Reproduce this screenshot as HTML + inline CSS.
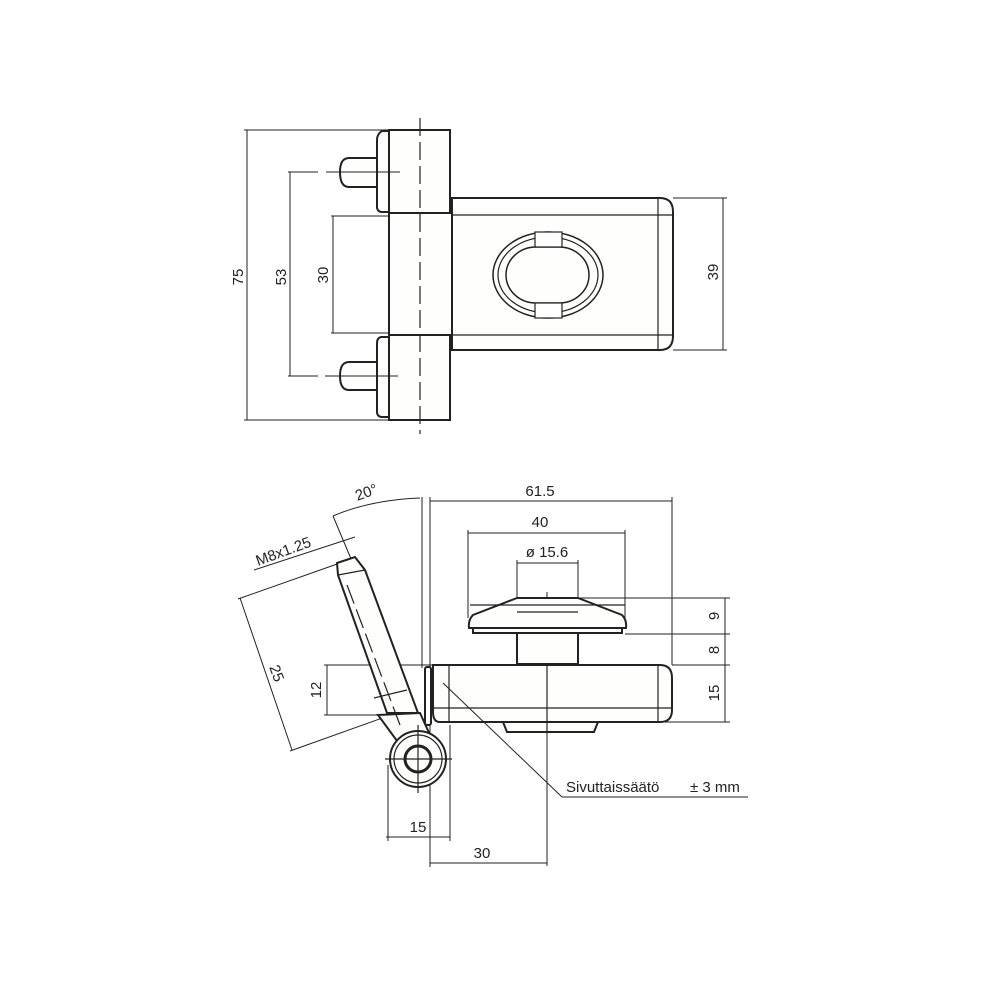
<!DOCTYPE html>
<html><head><meta charset="utf-8"><style>
html,body{margin:0;padding:0;background:#fff;}
svg{display:block}
text{font-family:"Liberation Sans",sans-serif;fill:#222;font-size:15px;}
</style></head><body>
<svg width="1000" height="1000" viewBox="0 0 1000 1000" xmlns="http://www.w3.org/2000/svg">
<rect width="1000" height="1000" fill="#fff"/>
<g stroke="#222" fill="none" stroke-width="1">
<line x1="247" y1="130" x2="247" y2="420"/>
<line x1="244" y1="130" x2="391" y2="130"/>
<line x1="244" y1="420" x2="391" y2="420"/>
<line x1="290" y1="172" x2="290" y2="376"/>
<line x1="333" y1="216" x2="333" y2="333"/>
<line x1="331" y1="216" x2="390" y2="216"/>
<line x1="331" y1="333" x2="390" y2="333"/>
<line x1="723" y1="198" x2="723" y2="350"/>
<line x1="673" y1="198" x2="727" y2="198"/>
<line x1="673" y1="350" x2="727" y2="350"/>
</g>
<g stroke="#222" fill="#fefefc" stroke-width="2">
<path d="M378 158 H349 Q340 158 340 172 Q340 187 349 187 H378"/>
<path d="M378 362 H349 Q340 362 340 376 Q340 390 349 390 H378"/>
<path d="M389 131 H382 Q377 134 377 140 V208 Q378 212 382 212 H389"/>
<path d="M389 337 H381 Q377 338 377 343 V413 Q378 417 382 417 H389"/>
<path d="M452 198 H660 Q673 198 673 212 V336 Q673 350 660 350 H452 Z"/>
<rect x="389" y="130" width="61" height="83"/>
<rect x="389" y="213" width="63" height="122"/>
<rect x="389" y="335" width="61" height="85"/>
</g>
<g stroke="#222" fill="none" stroke-width="1">
<line x1="288" y1="172" x2="318" y2="172"/><line x1="326" y1="172" x2="400" y2="172"/>
<line x1="288" y1="376" x2="318" y2="376"/><line x1="325" y1="376" x2="398" y2="376"/>
</g>
<g stroke="#222" fill="none" stroke-width="1.2">
<line x1="452" y1="215" x2="673" y2="215"/>
<line x1="452" y1="335" x2="673" y2="335"/>
<line x1="658" y1="198" x2="658" y2="350"/>
<line x1="420" y1="118" x2="420" y2="434" stroke-dasharray="18,6"/>
<ellipse cx="548" cy="275" rx="55" ry="43" stroke-width="1.5"/>
<ellipse cx="548" cy="275" rx="50" ry="38"/>
<rect x="506" y="247" width="83" height="56" rx="30" ry="28" stroke-width="1.5"/>
<rect x="535" y="232" width="27" height="15" fill="#fff"/>
<rect x="535" y="303" width="27" height="15" fill="#fff"/>
</g>
<text transform="translate(243,277) rotate(-90)" text-anchor="middle">75</text>
<text transform="translate(286,277) rotate(-90)" text-anchor="middle">53</text>
<text transform="translate(328,275) rotate(-90)" text-anchor="middle">30</text>
<text transform="translate(718,272) rotate(-90)" text-anchor="middle">39</text>

<g stroke="#222" fill="none" stroke-width="1">
<line x1="430" y1="501" x2="672" y2="501"/>
<line x1="430" y1="497" x2="430" y2="867"/>
<line x1="672" y1="497" x2="672" y2="665"/>
<line x1="422" y1="497" x2="422" y2="668"/>
<path d="M333 516 Q370 500 420 498"/>
<line x1="333" y1="516" x2="357" y2="573"/>
<line x1="468" y1="533" x2="625" y2="533"/>
<line x1="468" y1="530" x2="468" y2="618"/>
<line x1="625" y1="530" x2="625" y2="618"/>
<line x1="517" y1="563" x2="578" y2="563"/>
<line x1="517" y1="560" x2="517" y2="600"/>
<line x1="578" y1="560" x2="578" y2="600"/>
<line x1="547" y1="592" x2="547" y2="866"/>
<line x1="725" y1="598" x2="725" y2="722"/>
<line x1="578" y1="598" x2="730" y2="598"/>
<line x1="625" y1="634" x2="730" y2="634"/>
<line x1="672" y1="665" x2="730" y2="665"/>
<line x1="660" y1="722" x2="730" y2="722"/>
<line x1="327" y1="665" x2="327" y2="715"/>
<line x1="324" y1="665" x2="432" y2="665"/>
<line x1="324" y1="715" x2="395" y2="715"/>
<line x1="240" y1="598" x2="292" y2="750"/>
<line x1="238" y1="599" x2="340" y2="563"/>
<line x1="290" y1="751" x2="388" y2="716"/>
<line x1="254" y1="570" x2="355" y2="537"/>
<line x1="386" y1="837" x2="450" y2="837"/>
<line x1="388" y1="765" x2="388" y2="841"/>
<line x1="450" y1="725" x2="450" y2="841"/>
<line x1="430" y1="863" x2="547" y2="863"/>
<line x1="562" y1="797" x2="748" y2="797"/>
</g>
<g stroke="#222" fill="#fefefc" stroke-width="2">
<path d="M517 598 H578 L622 615 Q627 620 626 628 H469 Q468 620 473 615 Z"/>
<rect x="473" y="628" width="149" height="5"/>
<rect x="517" y="633" width="61" height="31"/>
<path d="M433 665 H660 Q672 665 672 678 V710 Q672 722 660 722 H440 Q433 722 433 712 Z"/>
<path d="M503 722 H598 L594 732 H507 Z"/>
<path d="M338 575 L337 563 L355 557 L365 570 L418 713 L387 713 Z"/>
<path d="M378 715 L420 713 L430 735 L400 745 Z"/>
<rect x="425" y="667" width="6" height="58" rx="2"/>
<circle cx="418" cy="759" r="28"/>
</g>
<g stroke="#222" fill="none" stroke-width="1.2">
<line x1="449" y1="665" x2="449" y2="722"/>
<line x1="658" y1="665" x2="658" y2="722"/>
<line x1="433" y1="708" x2="672" y2="708"/>
<line x1="470" y1="605" x2="625" y2="605"/>
<line x1="517" y1="612" x2="578" y2="612"/>
<line x1="547" y1="665" x2="547" y2="732"/>
<line x1="338" y1="575" x2="365" y2="570"/>
<line x1="374" y1="698" x2="407" y2="690"/>
<line x1="347" y1="585" x2="400" y2="725" stroke-dasharray="20,6"/>
<circle cx="418" cy="759" r="24"/>
<circle cx="418" cy="759" r="13" stroke-width="3"/>
<line x1="385" y1="759" x2="452" y2="759"/>
<line x1="418" y1="725" x2="418" y2="793"/>
<line x1="443" y1="683" x2="562" y2="797" stroke-width="1"/>
</g>
<text x="540" y="496" text-anchor="middle">61.5</text>
<text x="540" y="527" text-anchor="middle">40</text>
<text x="547" y="557" text-anchor="middle">ø  15.6</text>
<text transform="translate(368,497) rotate(-20)" text-anchor="middle" font-size="14">20°</text>
<text transform="translate(285,556) rotate(-20)" text-anchor="middle" font-size="14">M8x1.25</text>
<text transform="translate(272,675) rotate(70)" text-anchor="middle">25</text>
<text transform="translate(321,690) rotate(-90)" text-anchor="middle">12</text>
<text transform="translate(719,616) rotate(-90)" text-anchor="middle">9</text>
<text transform="translate(719,650) rotate(-90)" text-anchor="middle">8</text>
<text transform="translate(719,693) rotate(-90)" text-anchor="middle">15</text>
<text x="418" y="832" text-anchor="middle">15</text>
<text x="482" y="858" text-anchor="middle">30</text>
<text x="566" y="792" font-size="14">Sivuttaissäätö</text>
<text x="690" y="792" font-size="14">± 3 mm</text>
</svg>
</body></html>
